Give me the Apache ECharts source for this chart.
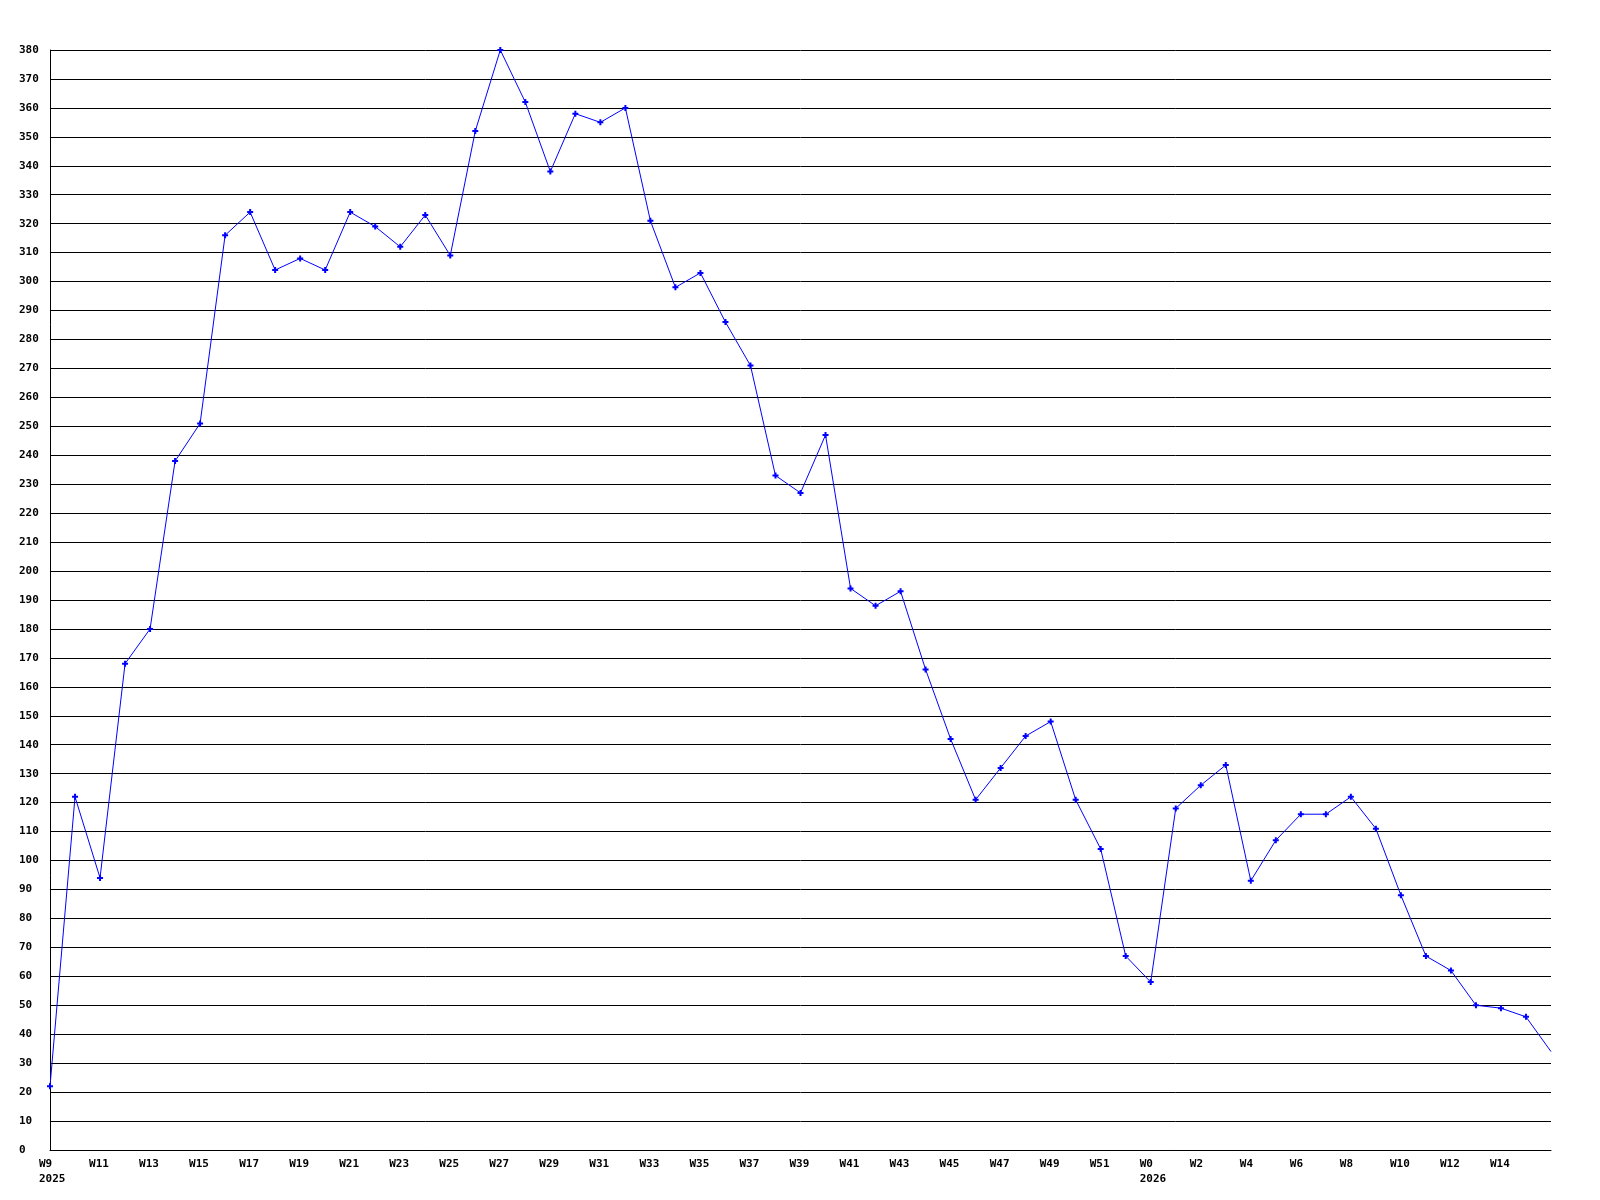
<!DOCTYPE html>
<html>
<head>
<meta charset="utf-8">
<style>
html,body{margin:0;padding:0;background:#ffffff;}
#chart{width:1600px;height:1200px;}
</style>
<script src="https://cdn.jsdelivr.net/npm/echarts@6/dist/echarts.min.js"></script>
</head>
<body>
<div id="chart"></div>
<script>
// Week categories (2025 W9..W52, 2026 W0..W16)
const weeks = [
  "W9","W10","W11","W12","W13","W14","W15","W16","W17","W18",
  "W19","W20","W21","W22","W23","W24","W25","W26","W27","W28",
  "W29","W30","W31","W32","W33","W34","W35","W36","W37","W38",
  "W39","W40","W41","W42","W43","W44","W45","W46","W47","W48",
  "W49","W50","W51","W52",
  "W0","W1","W2","W3","W4","W5","W6","W7","W8","W9",
  "W10","W11","W12","W13","W14","W15","W16"
];
// Year shown under the first week of each year (by category index)
const yearMarks = { 0: "2025", 44: "2026" };
// Weekly values
const values = [
  22,122,94,168,180,238,251,316,324,304,
  308,304,324,319,312,323,309,352,380,362,
  338,358,355,360,321,298,303,286,271,233,
  227,247,194,188,193,166,142,121,132,143,
  148,121,104,67,
  58,118,126,133,93,107,116,116,122,111,
  88,67,62,50,49,46,34
];
// Y axis range
const yMin = 0, yMax = 380, yStep = 10;

const font = "'DejaVu Sans Mono', 'Liberation Mono', monospace";
const seriesData = values.map(function (v, i) {
  return i === values.length - 1 ? {value: v, symbol: 'none'} : v;
});
const chart = echarts.init(document.getElementById('chart'), null, {renderer: 'canvas'});
chart.setOption({
  animation: false,
  backgroundColor: '#ffffff',
  grid: {left: 50, right: 49, top: 50, bottom: 50, containLabel: false},
  xAxis: {
    type: 'category',
    data: weeks,
    boundaryGap: false,
    axisLine: {show: true, lineStyle: {color: '#000', width: 1}},
    axisTick: {show: false},
    splitLine: {show: false},
    axisLabel: {
      interval: function (i) { return i % 2 === 0 && i < weeks.length - 1; },
      align: 'left',
      verticalAlign: 'top',
      margin: 7,
      padding: [0, 0, 0, -11],
      color: '#000',
      fontFamily: font,
      fontWeight: 'bold',
      fontSize: 11,
      lineHeight: 15,
      formatter: function (v, i) {
        return yearMarks[i] ? v + '\n' + yearMarks[i] : v;
      }
    }
  },
  yAxis: {
    type: 'value',
    min: yMin,
    max: yMax,
    interval: yStep,
    axisLine: {show: true, lineStyle: {color: '#000', width: 1}},
    axisTick: {show: false},
    splitLine: {show: true, lineStyle: {color: '#000', width: 1}},
    axisLabel: {
      align: 'left',
      margin: 31,
      color: '#000',
      fontFamily: font,
      fontWeight: 'bold',
      fontSize: 11
    }
  },
  series: [{
    type: 'line',
    data: seriesData,
    symbol: 'path://M2,0H4V2H6V4H4V6H2V4H0V2H2Z',
    symbolSize: 6,
    showAllSymbol: true,
    lineStyle: {color: '#0000ff', width: 1},
    itemStyle: {color: '#0000ff'},
    clip: true
  }]
});
</script>
</body>
</html>
